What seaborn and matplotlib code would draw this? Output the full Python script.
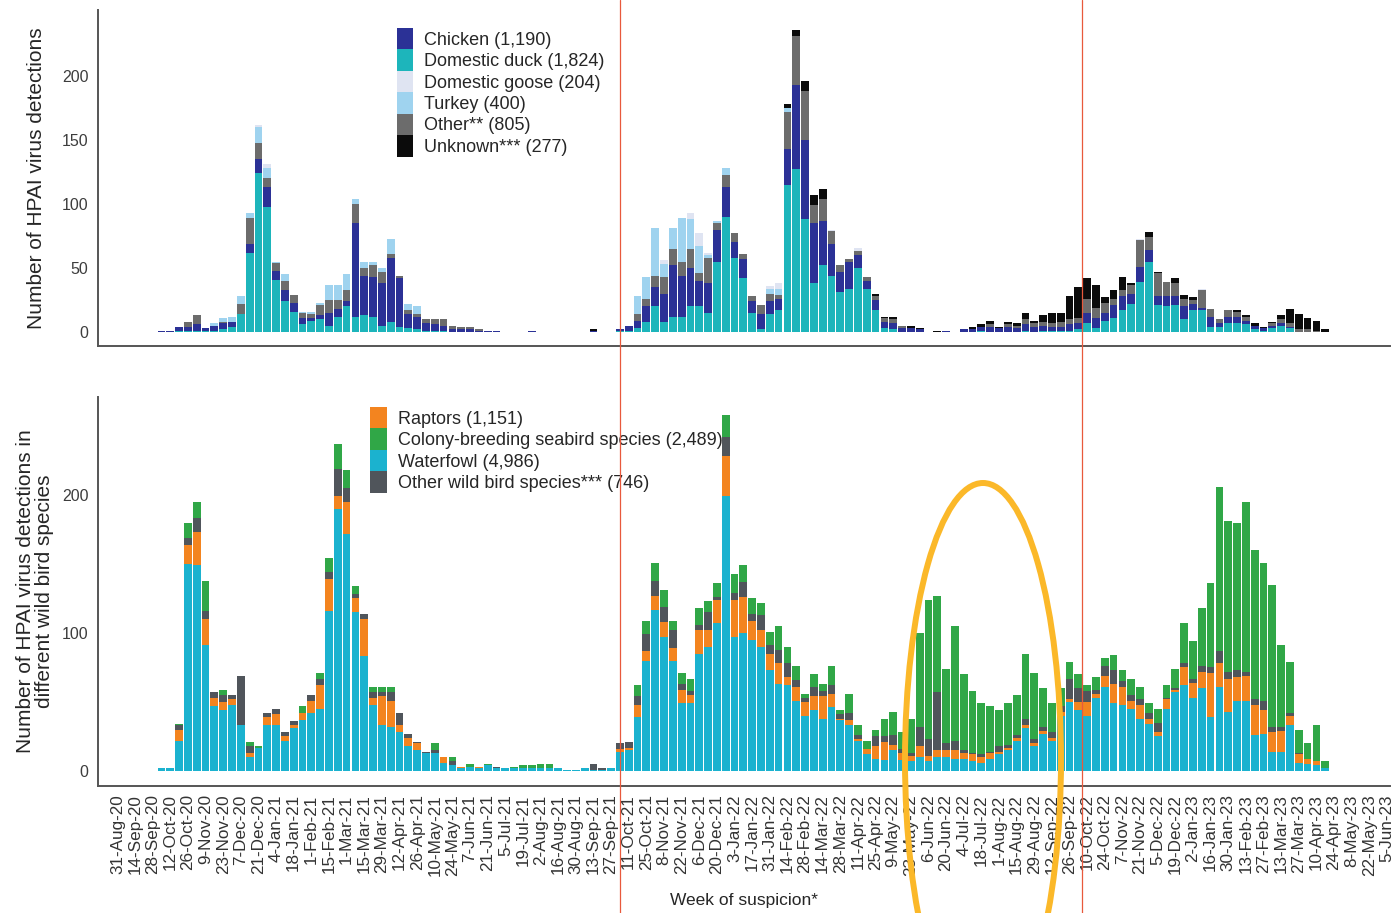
import numpy as np
import pandas as pd
import matplotlib
matplotlib.use("Agg")
import matplotlib.pyplot as plt
import matplotlib.transforms as mtransforms
from matplotlib.patches import Patch, Ellipse
from matplotlib.lines import Line2D
import seaborn as sns

# ---------------- categories ----------------
N_WEEKS = 145
week_start = pd.date_range("2020-08-31", periods=N_WEEKS, freq="7D")
week_labels = [f"{d.day}-{d.strftime('%b')}-{d.strftime('%y')}" for d in week_start]
tick_weeks = list(range(0, N_WEEKS, 2))
season_start_weeks = [57.0, 109.45]

# ---------------- poultry (week index -> detections) ----------------
duck = {7: 1, 8: 1, 9: 1, 10: 1, 11: 1, 12: 2, 13: 4, 14: 14, 15: 62, 16: 124, 17: 98, 18: 41, 19: 24,
        20: 16, 21: 6, 22: 9, 23: 10, 24: 5, 25: 12, 26: 20, 27: 12, 28: 13, 29: 12, 30: 5, 31: 8, 32: 4,
        33: 3, 34: 2, 35: 1, 36: 1, 37: 1,
        57: 1, 58: 1, 59: 3, 60: 8, 61: 20, 62: 8, 63: 12, 64: 12, 65: 20, 66: 20, 67: 15, 68: 55, 69: 90,
        70: 58, 71: 42, 72: 15, 73: 2, 74: 14, 75: 17, 76: 115, 77: 127, 78: 88, 79: 38, 80: 52, 81: 44,
        82: 31, 83: 34, 84: 50, 85: 34, 86: 17, 87: 3, 88: 2,
        98: 1, 103: 1, 105: 1, 106: 1, 107: 1, 108: 1, 109: 2, 110: 7, 111: 3, 112: 9, 113: 11, 114: 17,
        115: 22, 116: 39, 117: 55, 118: 21, 119: 20, 120: 21, 121: 10, 122: 17, 123: 17, 124: 4, 125: 4,
        126: 7, 127: 7, 128: 6, 129: 2, 130: 1, 131: 3, 132: 5, 133: 3}
chicken = {5: 1, 6: 1, 7: 3, 8: 3, 9: 5, 10: 2, 11: 4, 12: 5, 13: 4, 15: 7, 16: 11, 17: 15, 18: 7, 19: 9,
           20: 7, 21: 5, 22: 2, 23: 3, 24: 10, 25: 6, 26: 4, 27: 73, 28: 31, 29: 31, 30: 33, 31: 50, 32: 38,
           33: 11, 34: 10, 35: 6, 36: 5, 37: 4, 38: 2, 39: 2, 40: 2, 41: 1, 42: 1, 43: 1, 47: 1, 54: 1,
           57: 1, 58: 4, 59: 6, 60: 12, 61: 15, 62: 22, 63: 40, 64: 32, 65: 30, 66: 20, 67: 23, 68: 25,
           69: 23, 70: 12, 71: 15, 72: 9, 73: 12, 74: 10, 75: 9, 76: 28, 77: 66, 78: 62, 79: 47, 80: 35,
           81: 25, 82: 16, 83: 21, 84: 10, 85: 6, 86: 8, 87: 5, 88: 5, 89: 3, 90: 3, 91: 2, 94: 1,
           96: 2, 97: 2, 98: 3, 99: 4, 100: 3, 101: 4, 102: 3, 103: 5, 104: 4, 105: 4, 106: 3, 107: 3,
           108: 5, 109: 5, 110: 8, 111: 8, 112: 6, 113: 10, 114: 11, 115: 8, 116: 12, 117: 9, 118: 7,
           119: 8, 120: 7, 121: 10, 122: 5, 123: 2, 124: 8, 125: 3, 126: 5, 127: 5, 128: 3, 129: 3,
           130: 2, 131: 2, 132: 2, 133: 1}
goose = {16: 2, 17: 3, 62: 3, 65: 5, 66: 10, 67: 2, 74: 2, 75: 4, 81: 1, 84: 3, 116: 1, 123: 1}
turkey = {11: 2, 12: 3, 13: 4, 14: 6, 15: 4, 16: 12, 17: 8, 18: 1, 19: 5, 21: 1, 22: 2, 23: 2, 24: 12,
          25: 12, 26: 12, 27: 4, 28: 5, 29: 3, 30: 3, 31: 12, 33: 5, 34: 6,
          59: 14, 60: 17, 61: 37, 62: 10, 63: 16, 64: 34, 65: 23, 66: 21, 67: 2, 68: 2, 69: 5, 74: 4,
          75: 5, 76: 3}
other_poultry = {8: 4, 9: 7, 12: 1, 14: 8, 15: 20, 16: 13, 17: 7, 18: 6, 19: 7, 20: 6, 21: 4, 22: 3,
                 23: 8, 24: 10, 25: 7, 26: 9, 27: 15, 28: 6, 29: 9, 30: 9, 31: 3, 32: 2, 33: 3, 34: 2,
                 35: 3, 36: 4, 37: 5, 38: 3, 39: 2, 40: 2, 41: 1,
                 59: 5, 60: 6, 61: 9, 62: 13, 63: 13, 64: 11, 65: 15, 66: 6, 67: 20, 68: 5, 69: 10,
                 70: 7, 71: 4, 72: 4, 73: 7, 74: 6, 75: 3, 76: 29, 77: 38, 78: 38, 79: 14, 80: 17,
                 81: 10, 82: 5, 83: 2, 84: 3, 85: 3, 86: 3, 87: 3, 88: 3, 89: 2,
                 99: 2, 101: 2, 102: 2, 103: 4, 104: 3, 105: 3, 106: 3, 107: 4, 108: 4, 109: 4,
                 110: 11, 111: 8, 112: 8, 113: 5, 114: 5, 115: 7, 116: 21, 117: 10, 118: 18, 119: 11,
                 120: 10, 121: 6, 122: 3, 123: 14, 124: 6, 125: 3, 126: 5, 127: 4, 128: 3, 131: 2,
                 132: 3, 133: 3, 134: 2, 135: 2, 136: 1}
unknown = {54: 1, 76: 3, 77: 5, 78: 8, 79: 8, 80: 8, 86: 2, 87: 1, 88: 2, 90: 2, 91: 1, 93: 1,
           97: 2, 98: 2, 99: 3, 100: 1, 101: 2, 102: 2, 103: 5, 104: 2, 105: 5, 106: 8, 107: 7,
           108: 18, 109: 24, 110: 16, 111: 18, 112: 4, 113: 7, 114: 10, 115: 1, 117: 4, 118: 1,
           120: 4, 121: 3, 122: 2, 127: 1, 128: 1, 129: 2, 130: 1, 131: 1, 132: 3, 133: 11, 134: 12,
           135: 9, 136: 8, 137: 2}

# ---------------- wild birds (week index -> detections) ----------------
waterfowl = {5: 2, 6: 2, 7: 22, 8: 150, 9: 149, 10: 91, 11: 47, 12: 44, 13: 48, 14: 33, 15: 10, 16: 17,
             17: 33, 18: 33, 19: 22, 20: 31, 21: 37, 22: 42, 23: 45, 24: 116, 25: 190, 26: 172, 27: 115,
             28: 83, 29: 48, 30: 33, 31: 32, 32: 28, 33: 18, 34: 15, 35: 13, 36: 13, 37: 6, 38: 4, 39: 2,
             40: 3, 41: 2, 42: 4, 43: 2, 44: 2, 45: 2, 46: 2, 47: 2, 48: 2, 49: 2, 50: 2, 51: 1, 52: 1,
             53: 2, 54: 1, 55: 1, 56: 2,
             57: 14, 58: 15, 59: 39, 60: 80, 61: 117, 62: 97, 63: 80, 64: 49, 65: 49, 66: 85, 67: 90,
             68: 107, 69: 199, 70: 97, 71: 100, 72: 95, 73: 90, 74: 73, 75: 63, 76: 62, 77: 51, 78: 40,
             79: 44, 80: 38, 81: 46, 82: 37, 83: 33, 84: 22, 85: 12, 86: 9, 87: 8, 88: 15, 89: 8, 90: 7,
             91: 10, 92: 7, 93: 10, 94: 10, 95: 9, 96: 9, 97: 7, 98: 6, 99: 9, 100: 12, 101: 15, 102: 22,
             103: 31, 104: 18, 105: 27, 106: 22, 107: 40, 108: 50, 109: 44,
             110: 40, 111: 53, 112: 61, 113: 49, 114: 48, 115: 45, 116: 38, 117: 34, 118: 25, 119: 45,
             120: 57, 121: 62, 122: 53, 123: 60, 124: 39, 125: 61, 126: 43, 127: 51, 128: 51, 129: 26,
             130: 27, 131: 14, 132: 14, 133: 33, 134: 6, 135: 5, 136: 4, 137: 2}
raptors = {7: 8, 8: 14, 9: 24, 10: 19, 11: 6, 12: 6, 13: 4, 15: 3, 17: 6, 18: 8, 19: 3, 20: 2, 21: 5,
           22: 9, 23: 17, 24: 23, 25: 9, 26: 23, 27: 10, 28: 27, 29: 5, 30: 21, 31: 19, 32: 5, 33: 6,
           34: 5, 37: 4, 39: 1, 41: 1,
           57: 2, 58: 2, 59: 9, 60: 7, 61: 10, 62: 11, 63: 9, 64: 10, 65: 6, 66: 17, 67: 12, 68: 17,
           69: 29, 70: 27, 71: 26, 72: 14, 73: 12, 74: 12, 75: 15, 76: 6, 77: 10, 78: 10, 79: 10, 80: 16,
           81: 10, 82: 1, 83: 4, 84: 1, 85: 4, 86: 9, 87: 13, 88: 4, 89: 5, 90: 4, 91: 8, 92: 4, 93: 5,
           94: 5, 95: 6, 96: 4, 97: 5, 98: 4, 99: 4, 100: 2, 101: 2, 102: 2, 103: 2, 104: 2, 105: 2,
           106: 2, 107: 3, 108: 2, 109: 6,
           110: 10, 111: 3, 112: 8, 113: 14, 114: 13, 115: 6, 116: 10, 117: 4, 118: 3, 119: 7, 120: 2,
           121: 13, 122: 11, 123: 12, 124: 32, 125: 17, 126: 24, 127: 17, 128: 18, 129: 22, 130: 17,
           131: 14, 132: 15, 133: 7, 134: 6, 135: 4, 136: 3}
other_wild = {7: 3, 8: 5, 9: 10, 10: 6, 11: 4, 12: 5, 13: 3, 14: 36, 15: 5, 17: 3, 18: 4, 19: 3, 20: 3,
              22: 4, 23: 5, 24: 5, 25: 20, 26: 10, 27: 3, 28: 4, 29: 4, 30: 3, 31: 6, 32: 9, 33: 3,
              34: 1, 35: 1, 36: 2, 38: 3, 43: 1, 54: 4, 55: 1,
              57: 4, 58: 4, 59: 6, 60: 12, 61: 11, 62: 11, 63: 13, 64: 4, 65: 3, 66: 4, 67: 13, 68: 2,
              69: 14, 70: 5, 71: 11, 72: 5, 73: 11, 74: 6, 75: 10, 76: 10, 77: 5, 78: 3, 79: 7, 80: 4,
              81: 6, 82: 3, 83: 5, 84: 3, 86: 7, 87: 4, 88: 7, 89: 3, 90: 2, 91: 14, 92: 12, 93: 42,
              94: 5, 95: 7, 96: 2, 97: 1, 98: 2, 99: 1, 100: 4, 101: 2, 102: 2, 103: 5, 104: 3, 105: 3,
              106: 4, 107: 4, 108: 15, 109: 10,
              110: 8, 111: 3, 112: 7, 113: 10, 114: 4, 115: 4, 116: 4, 117: 4, 118: 7, 119: 1, 120: 1,
              121: 3, 122: 3, 123: 4, 124: 4, 125: 9, 126: 5, 127: 5, 128: 3, 129: 4, 130: 7, 131: 4,
              132: 3, 133: 2, 134: 1}
colony = {7: 1, 8: 11, 9: 12, 10: 22, 12: 4, 15: 3, 16: 1, 21: 5, 23: 4, 24: 10, 25: 18, 26: 13, 27: 6,
          29: 4, 30: 4, 31: 4, 36: 5, 38: 3, 40: 2, 42: 1, 45: 1, 46: 2, 47: 2, 48: 3, 49: 3,
          59: 8, 60: 10, 61: 13, 62: 12, 63: 7, 64: 8, 65: 9, 66: 12, 67: 8, 68: 10, 69: 16, 70: 14,
          71: 12, 72: 11, 73: 9, 74: 10, 75: 17, 76: 12, 77: 10, 78: 3, 79: 9, 80: 5, 81: 14, 82: 3,
          83: 14, 84: 7, 85: 6, 86: 5, 87: 13, 88: 17, 89: 12, 90: 25, 91: 68, 92: 101, 93: 70, 94: 54,
          95: 83, 96: 55, 97: 45, 98: 37, 99: 33, 100: 26, 101: 30, 102: 29, 103: 47, 104: 48, 105: 28,
          106: 21, 107: 13, 108: 12, 109: 10,
          110: 4, 111: 9, 112: 6, 113: 11, 114: 8, 115: 12, 116: 9, 117: 7, 118: 10, 119: 9, 120: 14,
          121: 29, 122: 27, 123: 42, 124: 61, 125: 119, 126: 109, 127: 107, 128: 123, 129: 108,
          130: 100, 131: 103, 132: 59, 133: 37, 134: 17, 135: 11, 136: 26, 137: 5}

# legend labels (stacking order given separately)
poultry_names = ["Chicken (1,190)", "Domestic duck (1,824)", "Domestic goose (204)",
                 "Turkey (400)", "Other** (805)", "Unknown*** (277)"]
poultry_series = [chicken, duck, goose, turkey, other_poultry, unknown]
poultry_colors = ["#2b3196", "#1db5bb", "#dfe4f2", "#9fd3ef", "#6c6c6c", "#0b0b0b"]
poultry_stack_bottom_to_top = ["Domestic duck (1,824)", "Chicken (1,190)", "Other** (805)",
                               "Turkey (400)", "Domestic goose (204)", "Unknown*** (277)"]

wild_names = ["Raptors (1,151)", "Colony-breeding seabird species (2,489)", "Waterfowl (4,986)",
              "Other wild bird species*** (746)"]
wild_series = [raptors, colony, waterfowl, other_wild]
wild_colors = ["#f3841f", "#30a747", "#1bb2cf", "#50555b"]
wild_stack_bottom_to_top = ["Waterfowl (4,986)", "Raptors (1,151)",
                            "Other wild bird species*** (746)", "Colony-breeding seabird species (2,489)"]


def to_long(names, series):
    rows = []
    for name, s in zip(names, series):
        for w in range(N_WEEKS):
            rows.append((w, name, s.get(w, 0)))
    return pd.DataFrame(rows, columns=["week", "group", "n"])


poultry_df = to_long(poultry_names, poultry_series)
wild_df = to_long(wild_names, wild_series)

# ---------------- figure ----------------
sns.set_theme(style="white")
plt.rcParams["font.family"] = ["Liberation Sans", "DejaVu Sans"]

W, H = 1396, 913
fig = plt.figure(figsize=(W / 100, H / 100), dpi=100)
ax1 = fig.add_axes([98 / W, (H - 346) / H, (1390 - 98) / W, (346 - 10) / H])
ax2 = fig.add_axes([98 / W, (H - 786) / H, (1390 - 98) / W, (786 - 397) / H])

text_col = "#3d3d3d"


def stacked(ax, df, names, colors, bottom_to_top):
    pal = dict(zip(names, colors))
    # seaborn stacks the last hue level at the bottom
    sns.histplot(data=df, x="week", weights="n", hue="group",
                 hue_order=bottom_to_top[::-1], palette=pal, multiple="stack",
                 discrete=True, shrink=0.88, linewidth=0, alpha=1, legend=False, ax=ax)


stacked(ax1, poultry_df, poultry_names, poultry_colors, poultry_stack_bottom_to_top)
stacked(ax2, wild_df, wild_names, wild_colors, wild_stack_bottom_to_top)

for ax in (ax1, ax2):
    ax.set_xlim(-2.2, 144.35)
    sns.despine(ax=ax)
    for sp in ("left", "bottom"):
        ax.spines[sp].set_color("#555555")
        ax.spines[sp].set_linewidth(1.4)
    ax.tick_params(axis="y", length=4, width=1, color="#555555", labelsize=11.5,
                   labelcolor=text_col, pad=3)
    ax.set_xlabel("")

ax1.set_ylim(-10.9, 251.6)
ax1.set_yticks([0, 50, 100, 150, 200])
ax1.set_xticks(tick_weeks)
ax1.tick_params(axis="x", length=0, labelbottom=False)
ax1.set_ylabel("Number of HPAI virus detections", fontsize=15, color="#262626")
ax1.yaxis.set_label_coords((46 - 98) / 1292, 0.5)

ax2.set_ylim(-10.9, 271)
ax2.set_yticks([0, 100, 200])
ax2.set_xticks(tick_weeks)
ax2.set_xticklabels([week_labels[i] for i in tick_weeks], rotation=90)
ax2.tick_params(axis="x", length=4, width=1, color="#555555", labelsize=12.3,
                labelcolor="#333333", pad=2)
ax2.set_ylabel("Number of HPAI virus detections in\ndifferent wild bird species",
               fontsize=15, color="#262626", linespacing=1.0)
ax2.yaxis.set_label_coords((54 - 98) / 1292, 0.5)
ax2.set_xlabel("Week of suspicion*", fontsize=12.5, color="#262626")
ax2.xaxis.set_label_coords(0.5, (786 - 893) / 389)

# legends
leg_kw = dict(bbox_transform=fig.transFigure, frameon=False, borderpad=0, borderaxespad=0,
              fontsize=13, handleheight=1.45, labelspacing=0, handletextpad=0.6,
              labelcolor="#262626", loc="upper left")
h1 = [Patch(facecolor=c, edgecolor="none") for c in poultry_colors]
ax1.legend(h1, poultry_names, bbox_to_anchor=(397 / W, 1 - 28 / H), handlelength=0.9, **leg_kw)
h2 = [Patch(facecolor=c, edgecolor="none") for c in wild_colors]
ax2.legend(h2, wild_names, bbox_to_anchor=(370 / W, 1 - 407 / H), handlelength=0.95, **leg_kw)

# season separators spanning the whole figure
blend = mtransforms.blended_transform_factory(ax2.transData, fig.transFigure)
for xs in season_start_weeks:
    fig.add_artist(Line2D([xs, xs], [0, 1], transform=blend, color="#e8593c", lw=0.9))

# highlight ellipse
fig.add_artist(Ellipse((983 / W, 1 - 760 / H), 156 / W, 554 / H, transform=fig.transFigure,
                       fill=False, edgecolor="#fbb829", lw=4.3))

fig.savefig("out.png", dpi=100)
